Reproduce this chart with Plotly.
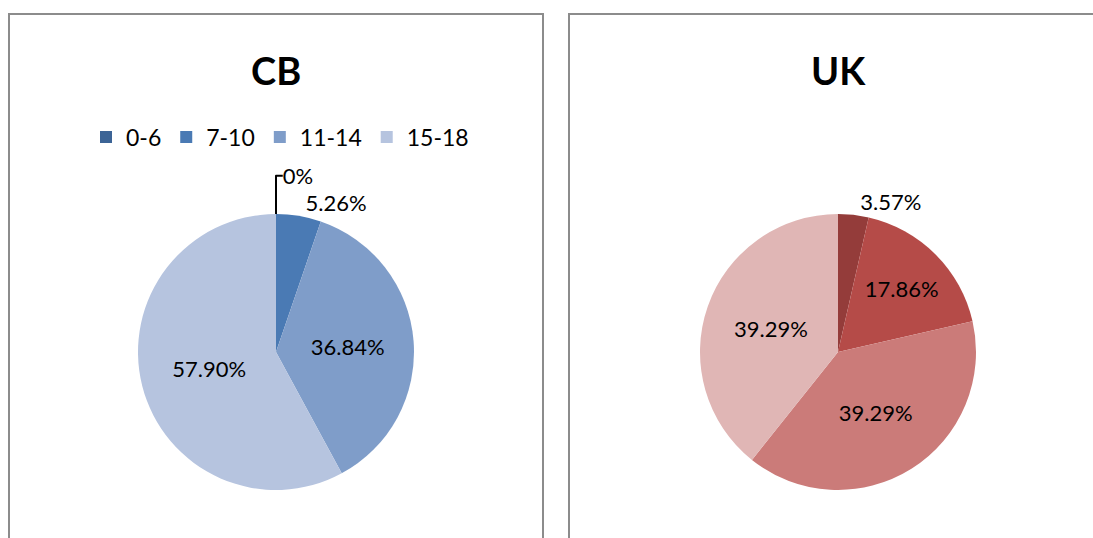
import plotly.graph_objects as go

# ---- data ----
age_groups = ["0-6", "7-10", "11-14", "15-18"]
cb_values = [0.0, 5.26, 36.84, 57.90]
uk_values = [3.57, 17.86, 39.29, 39.29]
cb_colors = ["#3C6496", "#4A7AB4", "#7F9DC9", "#B6C4DF"]
uk_colors = ["#943C3A", "#B54B48", "#CB7B79", "#E0B6B5"]
cb_textpos = ["outside", "outside", "inside", "inside"]
uk_textpos = ["outside", "inside", "inside", "inside"]

W, H = 1093, 538
FONT = "Lato, 'Liberation Sans', Arial, sans-serif"


def fmt(v):
    return "0%" if v == 0 else f"{v:.2f}%"


def px(x):
    return x / W


def py(y):
    return 1 - y / H


fig = go.Figure()

fig.add_trace(go.Pie(
    labels=age_groups, values=cb_values, text=[fmt(v) for v in cb_values],
    textinfo="text", textposition=cb_textpos, sort=False, direction="clockwise",
    rotation=0, marker=dict(colors=cb_colors, line=dict(width=0)),
    insidetextorientation="horizontal",
    textfont=dict(family=FONT, size=22, color="black"),
    domain=dict(x=[px(138), px(414)], y=[py(490), py(214)]),
    legend="legend", showlegend=True, hoverinfo="label+text",
))

fig.add_trace(go.Pie(
    labels=age_groups, values=uk_values, text=[fmt(v) for v in uk_values],
    textinfo="text", textposition=uk_textpos, sort=False, direction="clockwise",
    rotation=0, marker=dict(colors=uk_colors, line=dict(width=0)),
    insidetextorientation="horizontal",
    textfont=dict(family=FONT, size=22, color="black"),
    domain=dict(x=[px(700), px(976)], y=[py(490), py(214)]),
    legend="legend2", showlegend=True, hoverinfo="label+text",
))

legend_common = dict(orientation="h", xanchor="center", yanchor="middle",
                     bgcolor="rgba(0,0,0,0)",
                     font=dict(family=FONT, size=23, color="black"))

border = dict(color="#8C8C8C", width=2)

fig.update_layout(
    width=W, height=H,
    margin=dict(l=0, r=0, t=0, b=0),
    paper_bgcolor="white",
    legend=dict(x=px(280), y=py(137), **legend_common),
    legend2=dict(x=px(840), y=py(137), **legend_common),
    shapes=[
        dict(type="rect", xref="paper", yref="paper",
             x0=px(9), x1=px(543), y0=-0.05, y1=py(14),
             line=border, fillcolor="rgba(0,0,0,0)"),
        dict(type="rect", xref="paper", yref="paper",
             x0=px(569), x1=1.05, y0=-0.05, y1=py(14),
             line=border, fillcolor="rgba(0,0,0,0)"),
    ],
    annotations=[
        dict(text="<b>CB</b>", x=px(276), y=py(70), xref="paper", yref="paper",
             showarrow=False, xanchor="center", yanchor="middle",
             font=dict(family=FONT, size=38, color="black")),
        dict(text="<b>UK</b>", x=px(838), y=py(70), xref="paper", yref="paper",
             showarrow=False, xanchor="center", yanchor="middle",
             font=dict(family=FONT, size=38, color="black")),
    ],
)

fig.write_html(
    "out.html",
    config={"displayModeBar": False},
    post_script="document.body.style.margin='0px';document.body.style.overflow='hidden';",
)
